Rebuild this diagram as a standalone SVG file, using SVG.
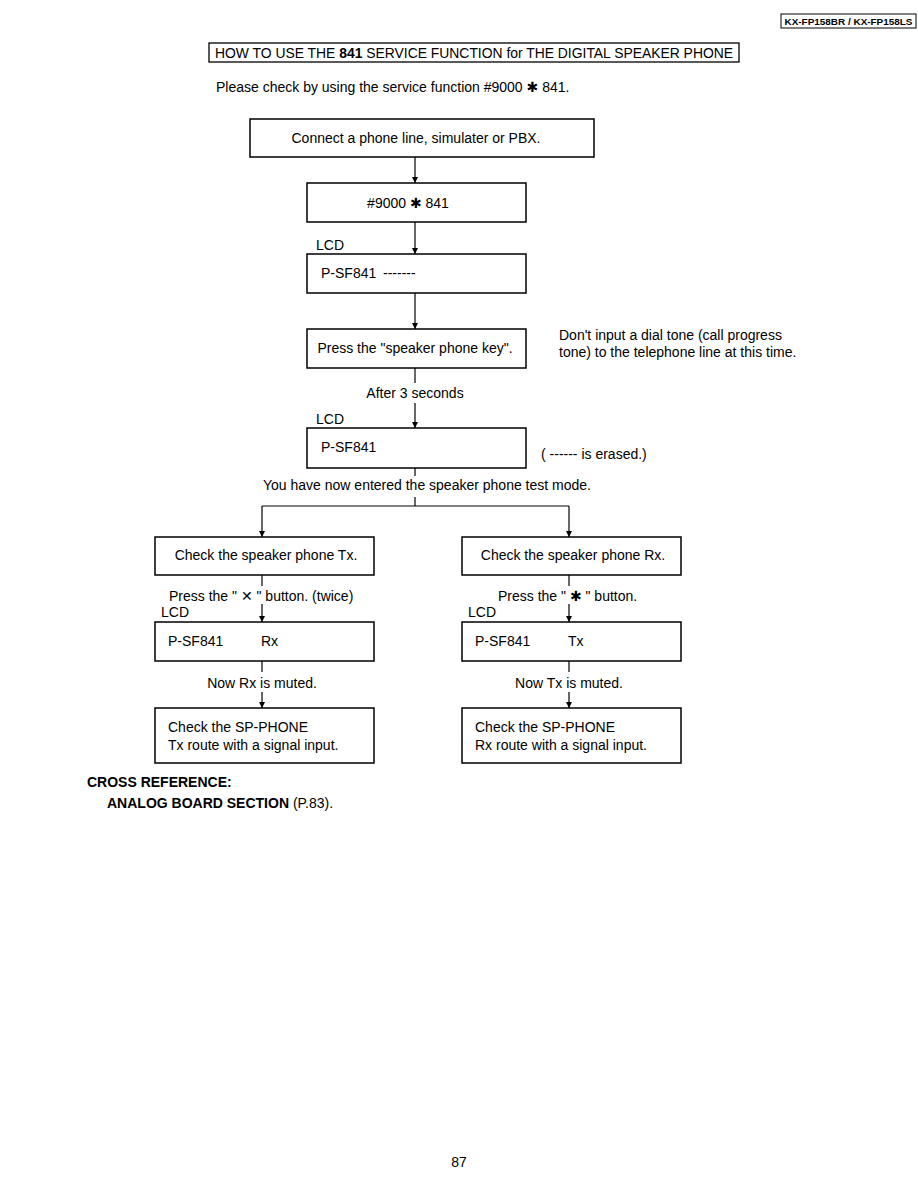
<svg xmlns="http://www.w3.org/2000/svg" width="918" height="1188" viewBox="0 0 918 1188">
<style>
text{font-family:"Liberation Sans",Arial,sans-serif;font-size:14px;fill:#000}
.b{font-weight:bold}
.c{text-anchor:middle}
.box{fill:#fff;stroke:#000;stroke-width:1.5}
.ln{fill:none;stroke:#000;stroke-width:1.2}
.sym{font-family:"DejaVu Sans",sans-serif}
</style>
<defs>
<marker id="ah" viewBox="0 0 10 10" refX="10" refY="5" markerWidth="6" markerHeight="7" markerUnits="userSpaceOnUse" orient="auto"><path d="M0,0 L10,5 L0,10 z" fill="#000"/></marker>
</defs>
<rect width="918" height="1188" fill="#fff"/>
<g id="header">
<rect x="781" y="14" width="135" height="14" fill="#fff" stroke="#000" stroke-width="1"/>
<text x="848.5" y="25" class="b c" style="font-size:9.5px" textLength="128" lengthAdjust="spacingAndGlyphs">KX-FP158BR / KX-FP158LS</text>
</g>
<g id="title">
<rect x="209" y="43" width="530" height="19" fill="#fff" stroke="#000" stroke-width="1.3"/>
<text x="474" y="58" class="c" style="font-size:14px" textLength="518" lengthAdjust="spacingAndGlyphs">HOW TO USE THE <tspan class="b">841</tspan> SERVICE FUNCTION for THE DIGITAL SPEAKER PHONE</text>
</g>
<text id="intro" x="216" y="92">Please check by using the service function #9000 <tspan class="sym">✱</tspan> 841.</text>
<g id="connectors">
<path class="ln" d="M415,157 V183" marker-end="url(#ah)"/>
<path class="ln" d="M415,222 V254" marker-end="url(#ah)"/>
<path class="ln" d="M415,293 V329" marker-end="url(#ah)"/>
<path class="ln" d="M415,368 V383"/>
<path class="ln" d="M415,403 V428" marker-end="url(#ah)"/>
<path class="ln" d="M415,468 V476"/>
<path class="ln" d="M415,497 V506"/>
<path class="ln" d="M262,506 H569"/>
<path class="ln" d="M262,506 V537" marker-end="url(#ah)"/>
<path class="ln" d="M569,506 V537" marker-end="url(#ah)"/>
<path class="ln" d="M262,575 V586"/>
<path class="ln" d="M262,604 V622" marker-end="url(#ah)"/>
<path class="ln" d="M262,661 V672"/>
<path class="ln" d="M262,692 V708" marker-end="url(#ah)"/>
<path class="ln" d="M569,575 V586"/>
<path class="ln" d="M569,604 V622" marker-end="url(#ah)"/>
<path class="ln" d="M569,661 V672"/>
<path class="ln" d="M569,692 V708" marker-end="url(#ah)"/>
</g>
<g id="n1"><rect class="box" x="250" y="119" width="344" height="38"/><text x="416" y="143" class="c">Connect a phone line, simulater or PBX.</text></g>
<g id="n2"><rect class="box" x="307" y="183" width="219" height="39"/><text x="408" y="208" class="c">#9000 <tspan class="sym">✱</tspan> 841</text></g>
<text x="316" y="250">LCD</text>
<g id="n3"><rect class="box" x="307" y="254" width="219" height="39"/><text x="321" y="278">P-SF841<tspan x="383">-------</tspan></text></g>
<g id="n4"><rect class="box" x="307" y="329" width="219" height="39"/><text x="415" y="353" class="c">Press the "speaker phone key".</text></g>
<text x="559" y="340">Don't input a dial tone (call progress</text>
<text x="559" y="357">tone) to the telephone line at this time.</text>
<text x="415" y="398" class="c">After 3 seconds</text>
<text x="316" y="424">LCD</text>
<g id="n5"><rect class="box" x="307" y="428" width="219" height="40"/><text x="321" y="452">P-SF841</text></g>
<text x="541" y="459">( ------  is erased.)</text>
<text x="427" y="490" class="c">You have now entered the speaker phone test mode.</text>
<g id="n6"><rect class="box" x="155" y="537" width="219" height="38"/><text x="266" y="560" class="c">Check the speaker phone Tx.</text></g>
<g id="n7"><rect class="box" x="462" y="537" width="219" height="38"/><text x="573" y="560" class="c">Check the speaker phone Rx.</text></g>
<text x="169" y="601">Press the "  <tspan class="sym">✕</tspan> " button. (twice)</text>
<text x="161" y="617">LCD</text>
<text x="498" y="601">Press the " <tspan class="sym">✱</tspan> " button.</text>
<text x="468" y="617">LCD</text>
<g id="n8"><rect class="box" x="155" y="622" width="219" height="39"/><text x="168" y="646">P-SF841<tspan x="261">Rx</tspan></text></g>
<g id="n9"><rect class="box" x="462" y="622" width="219" height="39"/><text x="475" y="646">P-SF841<tspan x="568">Tx</tspan></text></g>
<text x="262" y="688" class="c">Now Rx is muted.</text>
<text x="569" y="688" class="c">Now Tx is muted.</text>
<g id="n10"><rect class="box" x="155" y="708" width="219" height="55"/><text x="168" y="732">Check the SP-PHONE</text><text x="168" y="750">Tx route with a signal input.</text></g>
<g id="n11"><rect class="box" x="462" y="708" width="219" height="55"/><text x="475" y="732">Check the SP-PHONE</text><text x="475" y="750">Rx route with a signal input.</text></g>
<text x="87" y="787" class="b">CROSS REFERENCE:</text>
<text x="107" y="808"><tspan class="b">ANALOG BOARD SECTION</tspan> (P.83).</text>
<text x="459" y="1167" class="c">87</text>
</svg>
